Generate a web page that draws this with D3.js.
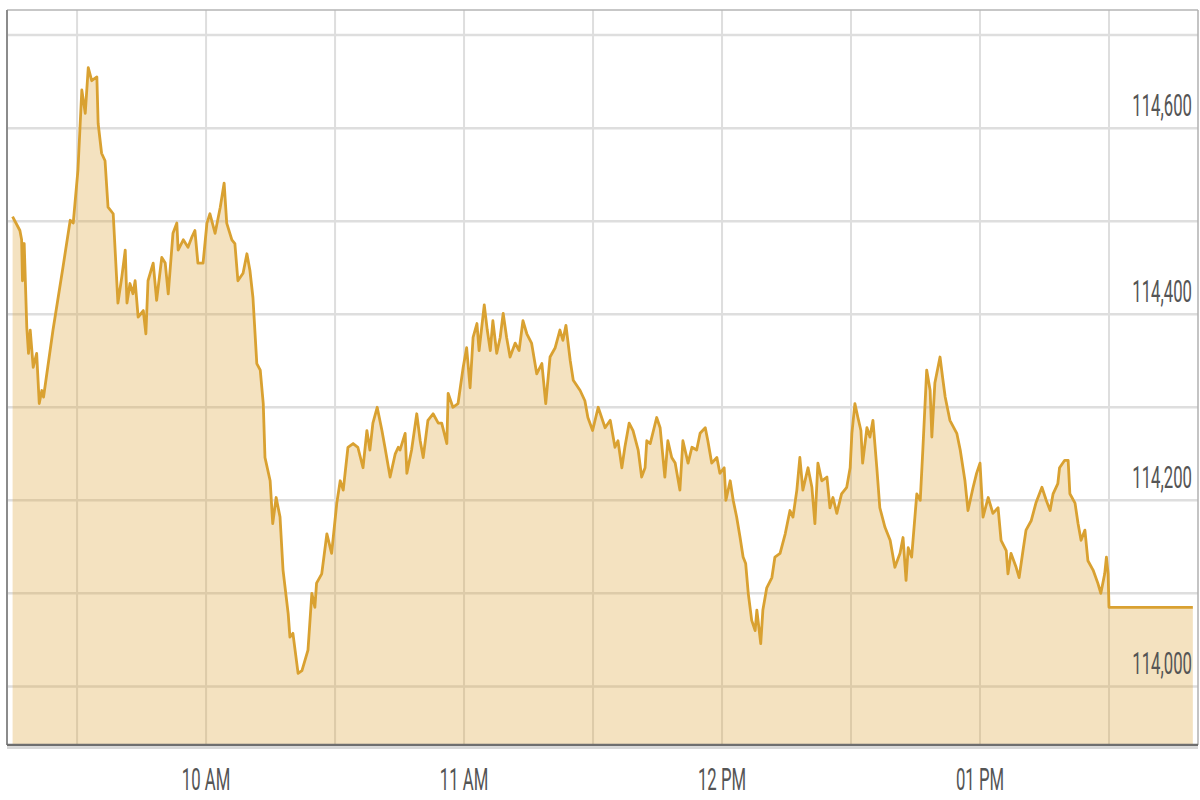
<!DOCTYPE html>
<html>
<head>
<meta charset="utf-8">
<script src="https://cdn.jsdelivr.net/npm/d3@7"></script>
<style>
    html, body { margin: 0; padding: 0; background: #fff; }
    svg { display: block; }
    .lbl { font-family: Roboto, "Noto Sans", sans-serif; fill: #555; }
</style>
</head>
<body>
<svg id="chart" width="1200" height="800"></svg>
<script>

// session opens 09:15, offsets are minutes after open
const openHour = 9;
const openMinute = 15;

const minutes = [
    0, 1.7, 2.1, 2.3, 2.7, 3.3, 3.7, 4.1, 4.8, 5.6, 6.2, 6.8, 7.2, 9.4, 11.7, 13.4, 14.1, 15.2, 16.1, 16.9,
    17.6, 18.4, 19.6, 19.9, 20.7, 21.5, 22.2, 23.4, 24.5, 25.4, 26.2, 26.6, 27.3, 28.0, 28.5, 29.2, 30.4, 31.0, 31.5, 32.7,
    33.5, 34.7, 35.5, 36.2, 37.3, 38.2, 38.5, 39.7, 40.8, 41.7, 42.4, 43.1, 44.3, 45.2, 45.9,
    47.1, 48.3, 49.2, 49.8, 51.0, 51.7, 52.4, 53.6, 54.5, 55.2, 55.9, 56.8, 57.6, 58.3, 58.7, 59.9, 60.5, 61.3, 62.2, 62.9,
    64.1, 64.5, 65.2, 66.4, 67.3, 68.0, 68.7, 69.6, 70.3, 70.7, 71.9, 73.1, 74.2, 75.4, 76.2, 76.9, 78.0, 79.2, 80.3, 81.5,
    82.4, 83.1, 83.8, 84.8, 85.9, 86.6, 87.8, 89.0, 89.7,
    90.1, 91.3, 91.7, 92.8, 94.0, 94.8, 95.5, 96.6, 97.8, 99.0, 99.8, 101.0, 101.3, 102.4, 103.6, 104.8, 105.6, 106.4, 107.1, 108.0,
    108.5, 109.7, 110.4, 111.1, 111.7, 112.6, 113.4, 114.1, 114.9, 115.7, 116.9, 117.8, 118.7, 119.6, 120.7, 121.9, 123.1, 124.0, 125.0, 126.2,
    127.3, 128.0, 128.7, 129.7, 130.4, 132.0, 133.1, 133.8, 134.9, 136.2,
    137.8, 139.0, 140.1, 140.8, 141.7, 142.4, 143.4, 144.3, 145.5, 146.3, 147.1, 147.5, 148.3, 149.8, 150.6, 151.7, 152.4, 153.3, 154.1, 155.2,
    155.9, 157.1, 158.0, 159.1, 159.9, 161.1, 161.7, 162.6, 163.8, 164.5, 165.5, 165.9, 166.9, 167.6, 168.4, 169.2, 169.9, 170.5, 171.1, 171.9,
    172.7, 173.1, 174.0, 174.5, 175.4, 176.6, 177.3, 178.5, 179.7, 180.8, 181.5, 182.4, 183.1, 183.8, 185.0, 185.9, 186.6, 187.3,
    188.2, 189.4, 190.1, 190.8, 191.7, 192.8, 194.0, 194.8, 195.2, 195.9, 196.6, 197.3, 197.7, 198.7, 199.4, 200.1, 201.0, 201.7, 202.9, 204.1,
    205.2, 206.4, 207.1, 207.8, 208.3, 209.1, 210.3, 211.1, 211.7, 212.6, 213.4, 213.8, 214.5, 215.7, 216.3, 216.9, 218.0, 219.6, 220.4, 221.5,
    222.2, 223.4, 224.2, 225.0, 225.7, 226.9, 228.0,
    229.2, 229.9, 231.1, 231.5, 232.2, 233.4, 234.1, 235.0, 235.7, 236.9, 238.0, 239.4, 240.4, 241.3, 242.0, 243.1, 243.5, 244.7, 245.5, 245.9,
    247.1, 247.8, 248.5, 249.4, 250.1, 251.3, 252.4, 253.1, 254.0, 254.4, 254.8, 255.0, 274.5
];

const prices = [
    114505, 114490, 114480, 114436, 114476, 114386, 114358, 114383, 114343, 114358, 114304, 114318, 114311, 114383, 114450, 114501, 114498, 114555, 114641, 114616,
    114665, 114651, 114655, 114605, 114573, 114565, 114515, 114508, 114412, 114440, 114469, 114412, 114433, 114422, 114436, 114397, 114404, 114379, 114436, 114455,
    114415, 114461, 114455, 114422, 114487, 114498, 114469, 114480, 114472, 114483, 114490, 114455, 114455, 114498, 114508,
    114487, 114515, 114541, 114498, 114480, 114476, 114436, 114444, 114465, 114447, 114418, 114347, 114340, 114304, 114246, 114221, 114175, 114203, 114182, 114125,
    114078, 114053, 114057, 114014, 114017, 114028, 114039, 114100, 114085, 114111, 114121, 114164, 114143, 114197, 114221, 114211, 114257, 114261, 114257, 114235,
    114275, 114254, 114283, 114300, 114275, 114257, 114225, 114250, 114257,
    114254, 114272, 114229, 114254, 114293, 114264, 114246, 114286, 114293, 114283, 114283, 114261, 114315, 114300, 114304, 114343, 114364, 114321, 114375, 114390,
    114361, 114410, 114383, 114361, 114393, 114358, 114375, 114401, 114375, 114354, 114369, 114361, 114393, 114379, 114369, 114336, 114347, 114304, 114354, 114364,
    114383, 114372, 114388, 114350, 114329, 114318, 114307, 114289, 114275, 114300,
    114278, 114286, 114257, 114264, 114235, 114257, 114283, 114275, 114254, 114225, 114235, 114264, 114261, 114289, 114278, 114225, 114264, 114246, 114240, 114211,
    114264, 114240, 114257, 114254, 114272, 114278, 114264, 114240, 114246, 114229, 114235, 114200, 114221, 114200, 114182, 114160, 114139, 114132, 114100, 114071,
    114060, 114082, 114046, 114082, 114106, 114117, 114139, 114143, 114164, 114189, 114182, 114211, 114246, 114211, 114235, 114214, 114175, 114240,
    114221, 114225, 114192, 114203, 114186, 114207, 114214, 114235, 114272, 114304, 114289, 114275, 114240, 114278, 114268, 114286, 114235, 114192, 114171, 114157,
    114128, 114143, 114160, 114114, 114149, 114139, 114207, 114200, 114254, 114340, 114318, 114268, 114326, 114354, 114332, 114311, 114286, 114272, 114254, 114221,
    114189, 114214, 114229, 114240, 114182, 114203, 114186,
    114192, 114157, 114146, 114121, 114143, 114128, 114117, 114146, 114168, 114178, 114197, 114214, 114200, 114189, 114207, 114218, 114235, 114243, 114243, 114207,
    114197, 114175, 114157, 114168, 114135, 114125, 114111, 114100, 114121, 114139, 114121, 114085, 114085
];

// axis extents (minutes after open / price)
const timeExtent = [-1.3, 275.7];
const priceExtent = [113937, 114727];

const gridPrices = [114000, 114100, 114200, 114300, 114400, 114500, 114600, 114700];
const labelPrices = [114000, 114200, 114400, 114600];
const gridTimes = ['09:30', '10:00', '10:30', '11:00', '11:30', '12:00', '12:30', '13:00', '13:30'];
const labelTimes = ['10:00', '11:00', '12:00', '13:00'];

const openDate = new Date(2024, 0, 2, openHour, openMinute);
const toDate = m => new Date(openDate.getTime() + m * 60000);
const parseClock = d3.timeParse('%Y-%m-%d %H:%M');
const clock = s => parseClock('2024-01-02 ' + s);

const series = minutes.map((m, i) => ({ time: toDate(m), price: prices[i] }));

const svg = d3.select('#chart');

const x = d3.scaleTime()
    .domain(timeExtent.map(toDate))
    .range([7, 1198]);

const y = d3.scaleLinear()
    .domain(priceExtent)
    .range([745, 10]);

// grid
svg.append('g')
    .selectAll('line')
    .data(gridPrices)
    .join('line')
    .attr('x1', x.range()[0])
    .attr('x2', x.range()[1])
    .attr('y1', d => y(d))
    .attr('y2', d => y(d))
    .attr('stroke', '#dedede')
    .attr('stroke-width', 2.5);

svg.append('g')
    .selectAll('line')
    .data(gridTimes)
    .join('line')
    .attr('x1', d => x(clock(d)))
    .attr('x2', d => x(clock(d)))
    .attr('y1', y.range()[1])
    .attr('y2', y.range()[0])
    .attr('stroke', '#dedede')
    .attr('stroke-width', 2);

// area + line
let area = d3.area()
    .x(d => x(d.time))
    .y0(y.range()[0])
    .y1(d => y(d.price));

let line = d3.line()
    .x(d => x(d.time))
    .y(d => y(d.price));

svg.append('path')
    .datum(series)
    .attr('d', area)
    .attr('fill', 'rgb(218,160,48)')
    .attr('fill-opacity', 0.3);

svg.append('path')
    .datum(series)
    .attr('d', line)
    .attr('fill', 'none')
    .attr('stroke', '#d9a131')
    .attr('stroke-width', 2.8)
    .attr('stroke-linejoin', 'round');

// frame
let [x0, x1] = x.range();
let [yb, yt] = y.range();
svg.append('line').attr('x1', x0).attr('x2', x1).attr('y1', yt).attr('y2', yt)
    .attr('stroke', '#b5b5b5').attr('stroke-width', 1.5);
svg.append('line').attr('x1', x0).attr('x2', x0).attr('y1', yt).attr('y2', yb)
    .attr('stroke', '#8c8c8c').attr('stroke-width', 2);
svg.append('line').attr('x1', x1).attr('x2', x1).attr('y1', yt).attr('y2', yb)
    .attr('stroke', '#b0b0b0').attr('stroke-width', 1.5);
svg.append('line').attr('x1', x0).attr('x2', x1).attr('y1', yb + 3).attr('y2', yb + 3)
    .attr('stroke', '#d8d8d8').attr('stroke-width', 2);
svg.append('line').attr('x1', x0).attr('x2', x1).attr('y1', yb).attr('y2', yb)
    .attr('stroke', '#6e6e6e').attr('stroke-width', 2.5);

// labels: tall condensed type, squeezed horizontally
const fmtPrice = d3.format(',');
const fmtTime = d3.timeFormat('%I %p');
const squeeze = 0.54;

svg.append('g')
    .selectAll('text')
    .data(labelPrices)
    .join('text')
    .attr('class', 'lbl')
    .attr('transform', d => `translate(${x1 - 6},${y(d) - 12}) scale(${squeeze},1)`)
    .attr('text-anchor', 'end')
    .attr('font-size', 31)
    .text(d => fmtPrice(d));

svg.append('g')
    .selectAll('text')
    .data(labelTimes)
    .join('text')
    .attr('class', 'lbl')
    .attr('transform', d => `translate(${x(clock(d))},${yb + 45}) scale(${squeeze},1)`)
    .attr('text-anchor', 'middle')
    .attr('font-size', 31)
    .text(d => fmtTime(clock(d)));

</script>
</body>
</html>
